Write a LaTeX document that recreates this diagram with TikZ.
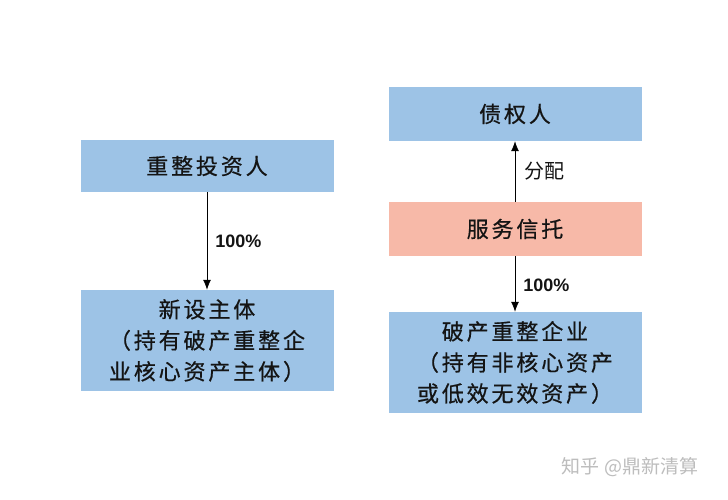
\documentclass[tikz,border=0pt]{standalone}
\usepackage{fontspec}
\usetikzlibrary{arrows.meta}
\newfontfamily\cjk[LetterSpace=13,FakeBold=0.6]{Noto Sans CJK SC}
\newfontfamily\cjklab{Noto Sans CJK SC}
\newfontfamily\numfont{Liberation Sans}
\definecolor{boxblue}{HTML}{9DC3E6}
\definecolor{boxsalmon}{HTML}{F7B9A8}
\definecolor{txt}{HTML}{141414}
\definecolor{wm}{HTML}{BDBDBD}
\tikzset{
  box/.style={fill=#1, draw=none, minimum width=253pt, inner sep=0pt, align=center,
    text=txt, font=\cjk\fontsize{22}{31}\selectfont},
  conn/.style={draw=black, line width=0.8pt, -{Latex[length=10pt,width=8pt]}},
  pct/.style={font=\numfont\bfseries\fontsize{18}{20}\selectfont, text=txt, inner sep=0pt, anchor=west},
  lab/.style={font=\cjklab\fontsize{20}{20}\selectfont, text=txt, inner sep=0pt, anchor=west},
}
\begin{document}
\begin{tikzpicture}[x=1pt,y=1pt]
\useasboundingbox (0,0) rectangle (728,500);
\fill[white] (0,0) rectangle (728,500);
% left column
\node[box=boxblue, minimum height=52pt] (inv) at (207,334) {重整投资人};
\node[box=boxblue, minimum height=101pt] (new) at (207,159.5) {新设主体\\（持有破产重整企\\业核心资产主体）};
\draw[conn] (inv.south) -- (new.north) node[pct, midway, xshift=8pt] (p1) {100\%};
% right column
\node[box=boxblue, minimum height=54pt] (cred) at (515,386) {债权人};
\node[box=boxsalmon, minimum height=54pt] (trust) at (515,271) {服务信托};
\node[box=boxblue, minimum height=101pt] (corp) at (515,137.5) {破产重整企业\\（持有非核心资产\\或低效无效资产）};
\draw[conn] (trust.north) -- (cred.south) node[lab, midway, xshift=9pt] (fp) {分配};
\draw[conn] (trust.south) -- (corp.north) node[pct, midway, xshift=8pt, yshift=-1pt] (p2) {100\%};
% watermark
\node[font=\cjklab\fontsize{19}{20}\selectfont, text=wm, inner sep=0pt] (wmk) at (630,33) {知乎 @鼎新清算};
\end{tikzpicture}
\end{document}
